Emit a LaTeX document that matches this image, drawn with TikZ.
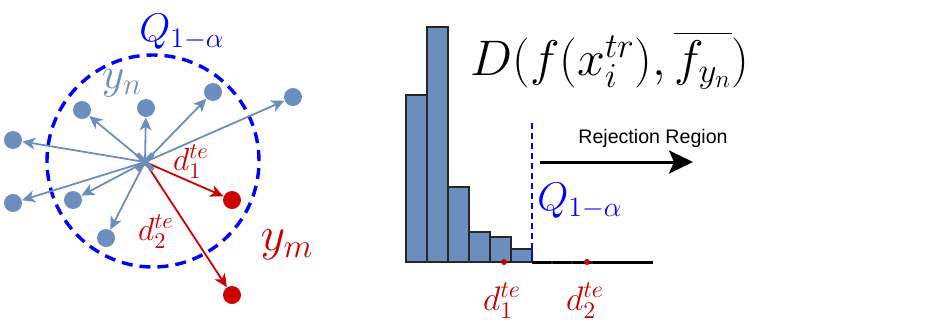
\RequirePackage{fix-cm}
\documentclass[tikz,border=0pt]{standalone}
\usepackage{amsmath}
\usepackage{fontspec}
\newfontfamily\rejfont{Liberation Sans}
\usepackage{tikz}
\usetikzlibrary{arrows.meta}
\definecolor{bluex}{HTML}{6C8EBF}
\definecolor{redx}{HTML}{CC0000}
\definecolor{qblue}{HTML}{0000FF}
\tikzset{
  bdot/.style={circle,fill=bluex,inner sep=0pt,minimum size=9pt},
  rdot/.style={circle,fill=redx,inner sep=0pt,minimum size=9pt},
  barr/.style={-{Stealth[length=6.5pt,width=6pt,inset=1.8pt]},line width=0.9pt,bluex},
  rarr/.style={-{Stealth[length=6.5pt,width=6pt,inset=1.8pt]},line width=0.9pt,redx},
  bar/.style={draw=black!85,line width=0.8pt,fill=bluex},
  xmark/.style={bluex,line width=2.4pt},
  lab/.style={inner sep=0pt,font=\fontsize{#1}{#1}\selectfont}
}
\begin{document}
\begin{tikzpicture}[x=0.5pt,y=-0.5pt]
\useasboundingbox (0,0) rectangle (942,322);
\def\R{53pt}
\draw[qblue,line width=1.7pt,dash pattern=on 5.5pt off 3.5pt] (153,161) circle (\R);
\coordinate (ctr) at (145,162);
\node[bdot] (b1) at (82,110) {};
\node[bdot] (b2) at (146,108) {};
\node[bdot] (b3) at (213,92) {};
\node[bdot] (b4) at (293,97) {};
\node[bdot] (b5) at (13,140) {};
\node[bdot] (b6) at (13,203) {};
\node[bdot] (b7) at (73,200) {};
\node[bdot] (b8) at (106,238) {};
\node[rdot] (r1) at (232,200) {};
\node[rdot] (r2) at (232,295) {};
\foreach \b in {b1,b2,b3,b4,b5,b6,b7,b8}
  \draw[barr] (ctr) -- (\b);
\draw[rarr] (ctr) -- (r1);
\draw[rarr] (ctr) -- (r2);
\draw[xmark] ([shift={(-8,-8)}]ctr) -- ([shift={(8,8)}]ctr)
  ([shift={(8,-8)}]ctr) -- ([shift={(-8,8)}]ctr);
\node[lab=20,qblue] (qlab) at (182,32) {$Q_{1-\alpha}$};
\node[lab=22,bluex] (ynlab) at (122,83) {$y_n$};
\node[lab=16,redx] (d1lab) at (191,162) {$d_1^{te}$};
\node[lab=16,redx] (d2lab) at (156,232) {$d_2^{te}$};
\node[lab=24,redx] (ymlab) at (287,245) {$y_m$};
\foreach \i/\t in {0/95,1/27,2/187,3/232,4/237,5/249}
  \draw[bar] ({406+21*\i},262) rectangle ({427+21*\i},\t);
\draw[black,line width=1.5pt] (532,262) -- (653,262);
\foreach \x in {552,572,592}
  \draw[black!85,line width=0.6pt] (\x,261) -- (\x,264);
\coordinate (qtop) at (532,123);
\coordinate (qbot) at (532,262);
\draw[qblue,line width=1pt,dash pattern=on 3pt off 2pt] (qtop) -- (qbot);
\fill[redx] (504,262) circle (1.5pt) (587,262) circle (1.5pt);
\node[lab=17,redx] (d1ax) at (502,301) {$d_1^{te}$};
\node[lab=17,redx] (d2ax) at (585,301) {$d_2^{te}$};
\node[lab=20,qblue] (qlab2) at (580,201) {$Q_{1-\alpha}$};
\node[lab=25] (form) at (610,60) {$D(f(x_i^{tr}),\overline{f_{y_n}})$};
\node[inner sep=0pt,font=\rejfont\fontsize{9.8}{10}\selectfont] (rej) at (653,138) {Rejection Region};
\coordinate (rs) at (540,162);
\coordinate (re) at (693,162);
\draw[-{Stealth[length=12pt,width=11.5pt,inset=2.5pt]},line width=1.5pt] (rs) -- (re);
\end{tikzpicture}
\end{document}
